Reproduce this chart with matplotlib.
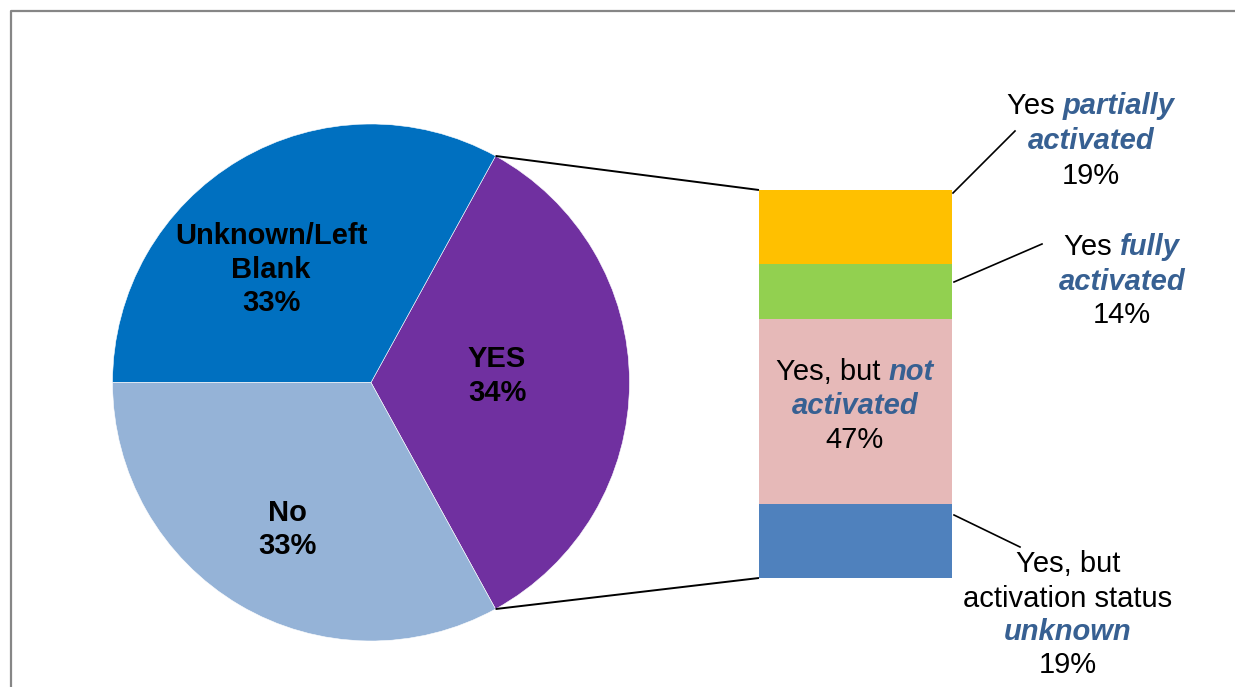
import matplotlib
matplotlib.use('Agg')
import matplotlib.pyplot as plt
import numpy as np

plt.rcParams['font.family'] = ['Liberation Sans', 'DejaVu Sans']

# main pie
pie_labels = ['YES', 'Unknown/Left\nBlank', 'No']
pie_values = [34, 33, 33]
pie_colors = ['#7030A0', '#0070C0', '#95B3D7']

# breakdown of YES, bottom to top
bar_names = ['unknown', 'not', 'fully', 'partially']
bar_values = [19, 47, 14, 19]
bar_colors = ['#4F81BD', '#E6B9B8', '#92D050', '#FFC000']

EMPH = '#376092'
FS = 21
W, H = 1235, 687

fig = plt.figure(figsize=(W / 100, H / 100), dpi=100)
ax = fig.add_axes([0, 0, 1, 1])

def Y(y):
    # image rows -> y-up axis units
    return H - y

cx, cy, R = 371, Y(382.5), 258.5
start = -pie_values[0] * 3.6 / 2
wedges, _ = ax.pie(pie_values, colors=pie_colors, startangle=start,
                   center=(cx, cy), radius=R, counterclock=True,
                   wedgeprops=dict(edgecolor='white', linewidth=0.4))

# stacked bar for the YES split
bx0, bx1 = 759, 952
btop, bbot = Y(190), Y(578)
unit = (btop - bbot) / sum(bar_values)
bottoms = bbot + unit * np.concatenate([[0], np.cumsum(bar_values)[:-1]])
ax.bar((bx0 + bx1) / 2, np.array(bar_values) * unit, width=bx1 - bx0,
       bottom=bottoms, color=bar_colors, linewidth=0)

# lines from the YES slice to the bar
yes = wedges[0]
for th, by in [(yes.theta2, btop), (yes.theta1, bbot)]:
    px = cx + R * np.cos(np.radians(th))
    py = cy + R * np.sin(np.radians(th))
    ax.plot([px, bx0], [py, by], color='black', lw=1.4, solid_capstyle='butt')

# leader lines for the bar labels
for (x0, y0), (x1, y1) in [((953, 193), (1015, 131)),
                           ((954, 282), (1042, 244)),
                           ((954, 515), (1020, 547))]:
    ax.plot([x0, x1], [Y(y0), Y(y1)], color='black', lw=1.2)

# border
ax.plot([11, 11, W + 5], [-5, Y(11), Y(11)], color='#868686', lw=1.6)

ax.set_xlim(0, W)
ax.set_ylim(0, H)
ax.set_aspect('auto')
ax.axis('off')

renderer = fig.canvas.get_renderer()

def line(x, y, runs, weight='normal'):
    # runs: list of (text, emphasised) drawn side by side, centred on x
    items = []
    total = 0
    for s, emph in runs:
        kw = dict(fontsize=FS, va='center', ha='left')
        if emph:
            kw.update(color=EMPH, fontweight='bold', fontstyle='italic')
        else:
            kw.update(color='black', fontweight=weight)
        t = ax.text(0, Y(y + 2), s, **kw)
        w = t.get_window_extent(renderer).width
        items.append((t, w))
        total += w
    left = x - total / 2
    for t, w in items:
        t.set_x(left)
        left += w

# pie labels
for x, ys, texts in [(271, [234, 268, 301], ['Unknown/Left', 'Blank', '33%']),
                     (497, [357, 391], ['YES', '34%']),
                     (287, [511, 544], ['No', '33%'])]:
    for y, s in zip(ys, texts):
        line(x, y, [(s, False)], weight='bold')

# bar labels
line(1091, 104, [('Yes ', False), ('partially', True)])
line(1091, 139, [('activated', True)])
line(1091, 174, [('19%', False)])

line(1122, 245, [('Yes ', False), ('fully', True)])
line(1122, 280, [('activated', True)])
line(1122, 313, [('14%', False)])

line(855, 370, [('Yes, but ', False), ('not', True)])
line(855, 404, [('activated', True)])
line(855, 438, [('47%', False)])

line(1068, 562, [('Yes, but', False)])
line(1068, 597, [('activation status', False)])
line(1068, 630, [('unknown', True)])
line(1068, 663, [('19%', False)])

fig.savefig('out.png', dpi=100)
